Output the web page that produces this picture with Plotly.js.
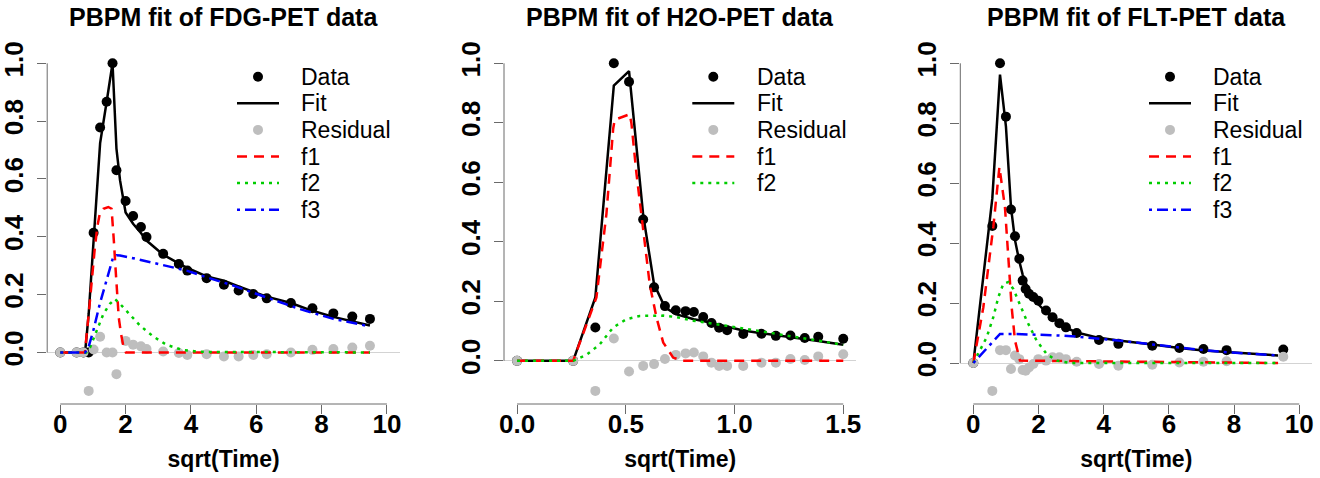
<!DOCTYPE html>
<html><head><meta charset="utf-8">
<script src="https://cdn.plot.ly/plotly-3.0.1.min.js"></script>
<style>html,body{margin:0;padding:0;background:#fff}#chart{width:1320px;height:478px}</style>
</head><body><div id="chart"></div>
<script>
// ---------- FDG-PET ----------
var fdgTime  = [0, 0.5, 0.71, 0.87, 1.02, 1.22, 1.42, 1.6, 1.72, 2.0, 2.23, 2.47, 2.64, 3.15, 3.63, 3.89, 4.48, 5.01, 5.46, 5.91, 6.32, 7.06, 7.72, 8.36, 8.94, 9.48];
var fdgData  = [0, 0, 0, 0, 0.414, 0.778, 0.867, 1.0, 0.63, 0.524, 0.472, 0.434, 0.399, 0.341, 0.306, 0.283, 0.257, 0.234, 0.214, 0.202, 0.187, 0.171, 0.153, 0.135, 0.124, 0.116];
var fdgResid = [0, 0, 0, -0.133, 0.01, 0.054, 0, 0, -0.075, 0.04, 0.027, 0.021, 0.012, 0.003, -0.002, -0.009, -0.006, -0.014, -0.014, -0.009, -0.006, 0, 0.009, 0.012, 0.017, 0.023];
var fdgFitTime = [0, 0.5, 0.71, 0.76, 0.87, 1.02, 1.22, 1.42, 1.6, 1.72, 1.83, 2.0, 2.23, 2.47, 2.64, 3.15, 3.63, 3.89, 4.48, 5.01, 5.46, 5.91, 6.32, 7.06, 7.72, 8.36, 8.94, 9.48];
var fdgFit     = [0, 0, 0, 0, 0.133, 0.404, 0.724, 0.867, 1.0, 0.705, 0.595, 0.484, 0.445, 0.413, 0.387, 0.338, 0.308, 0.292, 0.263, 0.248, 0.228, 0.211, 0.193, 0.171, 0.144, 0.123, 0.107, 0.093];
var fdgF1Time = [0, 0.755, 0.89, 0.99, 1.06, 1.14, 1.21, 1.32, 1.47, 1.57, 1.6, 1.64, 1.69, 1.74, 1.79, 1.86, 1.93, 2.01, 9.48];
var fdgF1     = [0, 0, 0.156, 0.283, 0.364, 0.439, 0.48, 0.497, 0.503, 0.497, 0.457, 0.387, 0.295, 0.202, 0.121, 0.064, 0.023, 0, 0];
var fdgF2Time = [0, 0.8, 0.91, 1.11, 1.32, 1.52, 1.67, 1.83, 2.13, 2.44, 2.85, 3.26, 3.77, 4.28, 9.48];
var fdgF2     = [0, 0, 0.017, 0.075, 0.133, 0.168, 0.185, 0.168, 0.13, 0.093, 0.055, 0.026, 0.008, 0.002, 0];
var fdgF3Time = [0, 0.76, 0.86, 1.01, 1.21, 1.42, 1.62, 1.72, 1.83, 2.23, 2.74, 3.26, 3.87, 4.48, 5.3, 6.32, 7.34, 8.36, 9.48];
var fdgF3     = [0, 0, 0.017, 0.075, 0.168, 0.249, 0.33, 0.336, 0.335, 0.326, 0.313, 0.3, 0.283, 0.26, 0.231, 0.19, 0.15, 0.116, 0.09];
var fdgXTicks = [0, 2, 4, 6, 8, 10];

// ---------- H2O-PET ----------
var h2oTime  = [0, 0.258, 0.36, 0.445, 0.515, 0.58, 0.63, 0.68, 0.73, 0.775, 0.813, 0.856, 0.894, 0.929, 0.966, 1.04, 1.124, 1.19, 1.257, 1.323, 1.385, 1.5];
var h2oData  = [0, 0, 0.112, 1.0, 0.938, 0.475, 0.247, 0.184, 0.17, 0.167, 0.164, 0.147, 0.127, 0.111, 0.103, 0.09, 0.091, 0.084, 0.085, 0.077, 0.081, 0.074];
var h2oResid = [0, 0, -0.101, 0.075, -0.036, -0.017, -0.011, 0.006, 0.02, 0.025, 0.028, 0.015, -0.006, -0.017, -0.017, -0.017, -0.006, -0.006, 0.006, 0.003, 0.015, 0.022];
var h2oFitTime = [0, 0.258, 0.36, 0.445, 0.515, 0.58, 0.63, 0.68, 0.73, 0.775, 0.813, 0.856, 0.894, 0.929, 0.966, 1.04, 1.124, 1.19, 1.257, 1.323, 1.385, 1.5];
var h2oFit     = [0, 0, 0.213, 0.925, 0.974, 0.49, 0.258, 0.18, 0.157, 0.147, 0.14, 0.134, 0.127, 0.121, 0.114, 0.102, 0.093, 0.087, 0.08, 0.074, 0.067, 0.054];
var h2oF1Time = [0, 0.258, 0.365, 0.411, 0.442, 0.449, 0.518, 0.526, 0.549, 0.58, 0.61, 0.641, 0.672, 0.718, 0.76, 1.5];
var h2oF1     = [0, 0, 0.213, 0.494, 0.78, 0.81, 0.829, 0.798, 0.63, 0.438, 0.258, 0.146, 0.062, 0.011, 0, 0];
var h2oF2Time = [0, 0.258, 0.319, 0.38, 0.442, 0.503, 0.564, 0.672, 0.733, 0.81, 0.963, 1.178, 1.331, 1.5];
var h2oF2     = [0, 0, 0.02, 0.055, 0.112, 0.14, 0.151, 0.152, 0.147, 0.135, 0.118, 0.093, 0.075, 0.054];
var h2oXTicks = [0, 0.5, 1.0, 1.5];

// ---------- FLT-PET ----------
var fltTime  = [0, 0.583, 0.818, 1.0, 1.155, 1.278, 1.41, 1.513, 1.605, 1.707, 1.84, 1.994, 2.23, 2.43, 2.64, 2.84, 3.17, 3.855, 4.45, 5.49, 6.32, 7.06, 7.77, 9.51];
var fltData  = [0, 0.457, 1.0, 0.822, 0.512, 0.423, 0.348, 0.275, 0.247, 0.231, 0.22, 0.208, 0.175, 0.153, 0.133, 0.119, 0.1, 0.077, 0.064, 0.058, 0.05, 0.047, 0.043, 0.045];
var fltResid = [0, -0.093, 0.043, 0.043, -0.02, 0.025, 0.013, -0.023, -0.026, -0.015, -0.003, 0.013, 0.008, 0.019, 0.019, 0.013, 0.004, -0.003, -0.009, -0.006, 0.002, 0.004, 0.006, 0.021];
var fltFitTime = [0, 0.583, 0.818, 1.0, 1.155, 1.278, 1.41, 1.513, 1.605, 1.707, 1.84, 1.994, 2.23, 2.43, 2.64, 2.84, 3.17, 3.855, 4.45, 5.49, 6.32, 7.06, 7.77, 9.35];
var fltFit     = [0, 0.55, 0.962, 0.79, 0.52, 0.41, 0.34, 0.295, 0.268, 0.243, 0.218, 0.196, 0.17, 0.15, 0.132, 0.118, 0.102, 0.084, 0.075, 0.062, 0.05, 0.042, 0.036, 0.025];
var fltF1Time = [0, 0.307, 0.613, 0.8, 0.97, 1.07, 1.176, 1.278, 1.43, 9.35];
var fltF1     = [0, 0.186, 0.454, 0.654, 0.52, 0.353, 0.186, 0.075, 0.008, 0];
var fltF2Time = [0, 0.41, 0.613, 0.767, 0.92, 1.07, 1.227, 1.43, 1.636, 1.94, 2.25, 2.56, 3.0, 9.35];
var fltF2     = [0, 0.086, 0.153, 0.22, 0.264, 0.27, 0.247, 0.197, 0.142, 0.075, 0.03, 0.008, 0, 0];
var fltF3Time = [0, 0.818, 1.227, 2.04, 2.6, 3.17, 3.855, 4.45, 5.49, 6.32, 7.06, 7.77, 8.5, 9.35];
var fltF3     = [0, 0.097, 0.097, 0.095, 0.092, 0.088, 0.082, 0.075, 0.062, 0.051, 0.043, 0.036, 0.03, 0.025];
var fltXTicks = [0, 2, 4, 6, 8, 10];

var yTicks = [0, 0.2, 0.4, 0.6, 0.8, 1.0];
var titles = ['PBPM fit of FDG-PET data', 'PBPM fit of H2O-PET data', 'PBPM fit of FLT-PET data'];
var xLabel = 'sqrt(Time)';
var seriesNames = ['Data', 'Fit', 'Residual', 'f1', 'f2', 'f3'];

// ---------- layout geometry (pixels) ----------
var W = 1320, H = 478;
var FONT = 'Liberation Sans, Arial, sans-serif';
var plotTop = 50.2, plotBottom = 404;
var plotLeft = [47.2, 504, 960.3];
var plotRight = [400, 856.3, 1312.3];
var legendSymbolCenter = [258, 713.3, 1170];
var legendTextLeft = [299, 755, 1210.7];
var legendRow0 = 76.7, legendPitch = 26.6, legendLineHalf = 21, legendMarkerR = 5;

var panels = [
  {time: fdgTime, data: fdgData, resid: fdgResid, fitT: fdgFitTime, fit: fdgFit,
   comps: [[fdgF1Time, fdgF1], [fdgF2Time, fdgF2], [fdgF3Time, fdgF3]], xt: fdgXTicks, fmt: 'd'},
  {time: h2oTime, data: h2oData, resid: h2oResid, fitT: h2oFitTime, fit: h2oFit,
   comps: [[h2oF1Time, h2oF1], [h2oF2Time, h2oF2]], xt: h2oXTicks, fmt: '.1f'},
  {time: fltTime, data: fltData, resid: fltResid, fitT: fltFitTime, fit: fltFit,
   comps: [[fltF1Time, fltF1], [fltF2Time, fltF2], [fltF3Time, fltF3]], xt: fltXTicks, fmt: 'd'}
];

var compStyles = [
  {color: '#ff0000', dash: '10px,7px'},
  {color: '#00cd00', dash: '3px,5px'},
  {color: '#0000ff', dash: '3px,5px,11px,5px'}
];

var traces = [];
var layout = {
  width: W, height: H,
  margin: {l: 0, r: 0, t: 0, b: 0},
  paper_bgcolor: '#fff', plot_bgcolor: '#fff',
  font: {family: FONT, color: '#000'},
  showlegend: false,
  hovermode: false,
  annotations: [],
  shapes: []
};

var yDomain = [(H - plotBottom) / H, (H - plotTop) / H];
var axisCol = '#6a6a6a';

function rRange(lo, hi) { var r = hi - lo; return [lo - 0.04 * r, hi + 0.04 * r]; }

panels.forEach(function (p, i) {
  var n = i === 0 ? '' : String(i + 1);
  var xa = 'x' + n, ya = 'y' + n;
  var xDomain = [plotLeft[i] / W, plotRight[i] / W];
  var xr = rRange(p.xt[0], p.xt[p.xt.length - 1]);
  var yMin = Math.min.apply(null, p.resid.concat(p.data));
  var yMax = Math.max.apply(null, p.data.concat(p.fit));
  var yr = rRange(yMin, yMax);
  var panelTraces = [];

  panelTraces.push({x: p.time, y: p.data, mode: 'markers', name: seriesNames[0], xaxis: xa, yaxis: ya,
               marker: {color: '#000', size: 10}});
  panelTraces.push({x: p.fitT, y: p.fit, mode: 'lines', name: seriesNames[1], xaxis: xa, yaxis: ya,
               line: {color: '#000', width: 2.5}});
  panelTraces.push({x: p.time, y: p.resid, mode: 'markers', name: seriesNames[2], xaxis: xa, yaxis: ya,
               marker: {color: '#bebebe', size: 10}});
  p.comps.forEach(function (c, k) {
    panelTraces.push({x: c[0], y: c[1], mode: 'lines', name: seriesNames[3 + k], xaxis: xa, yaxis: ya,
                 line: {color: compStyles[k].color, dash: compStyles[k].dash, width: 2.5}});
  });
  traces = traces.concat(panelTraces);

  layout['xaxis' + n] = {
    domain: xDomain, range: xr, anchor: ya,
    tickvals: p.xt, tickformat: p.fmt, ticks: 'outside', ticklen: 9, tickwidth: 1, tickcolor: axisCol,
    ticklabelstandoff: -12,
    showline: false, showgrid: false, zeroline: false,
    tickfont: {family: FONT, size: 26, color: '#000', weight: 'bold'},
    title: {text: xLabel, font: {family: FONT, size: 23, color: '#000', weight: 'bold'}, standoff: 12}
  };
  layout['yaxis' + n] = {
    domain: yDomain, range: yr, anchor: xa,
    tickvals: yTicks, tickformat: '.1f', ticks: 'outside', ticklen: 9, tickwidth: 1, tickcolor: axisCol,
    tickangle: -90, ticklabelstandoff: 4,
    showline: false, showgrid: false,
    zeroline: true, zerolinecolor: '#d3d3d3', zerolinewidth: 1,
    tickfont: {family: FONT, size: 26, color: '#000', weight: 'bold'}
  };

  // R-style axis lines spanning first..last tick
  function px(v) { return xDomain[0] + (v - xr[0]) / (xr[1] - xr[0]) * (xDomain[1] - xDomain[0]); }
  function py(v) { return yDomain[0] + (v - yr[0]) / (yr[1] - yr[0]) * (yDomain[1] - yDomain[0]); }
  layout.shapes.push({type: 'line', xref: 'paper', yref: 'paper',
    x0: px(p.xt[0]), x1: px(p.xt[p.xt.length - 1]), y0: yDomain[0], y1: yDomain[0],
    line: {color: axisCol, width: 1}});
  layout.shapes.push({type: 'line', xref: 'paper', yref: 'paper',
    x0: xDomain[0], x1: xDomain[0], y0: py(yTicks[0]), y1: py(yTicks[yTicks.length - 1]),
    line: {color: axisCol, width: 1}});

  // panel title
  layout.annotations.push({text: titles[i], xref: 'paper', yref: 'paper',
    x: (xDomain[0] + xDomain[1]) / 2, y: 1 - 17 / H, xanchor: 'center', yanchor: 'middle',
    showarrow: false, font: {family: FONT, size: 25, color: '#000', weight: 'bold'}});

  // legend (R style, no box) built from the panel's traces
  panelTraces.forEach(function (t, k) {
    var cy = legendRow0 + k * legendPitch;
    var cx = legendSymbolCenter[i];
    if (t.mode === 'markers') {
      layout.shapes.push({type: 'circle', xref: 'paper', yref: 'paper',
        x0: (cx - legendMarkerR) / W, x1: (cx + legendMarkerR) / W,
        y0: 1 - (cy + legendMarkerR) / H, y1: 1 - (cy - legendMarkerR) / H,
        fillcolor: t.marker.color, line: {width: 0}});
    } else {
      layout.shapes.push({type: 'line', xref: 'paper', yref: 'paper',
        x0: (cx - legendLineHalf) / W, x1: (cx + legendLineHalf) / W,
        y0: 1 - cy / H, y1: 1 - cy / H,
        line: {color: t.line.color, width: t.line.width, dash: t.line.dash || 'solid'}});
    }
    layout.annotations.push({text: t.name, xref: 'paper', yref: 'paper',
      x: legendTextLeft[i] / W, y: 1 - cy / H, xanchor: 'left', yanchor: 'middle',
      showarrow: false, font: {family: FONT, size: 23, color: '#000'}});
  });
});

Plotly.newPlot('chart', traces, layout, {staticPlot: true, displayModeBar: false});
</script></body></html>
